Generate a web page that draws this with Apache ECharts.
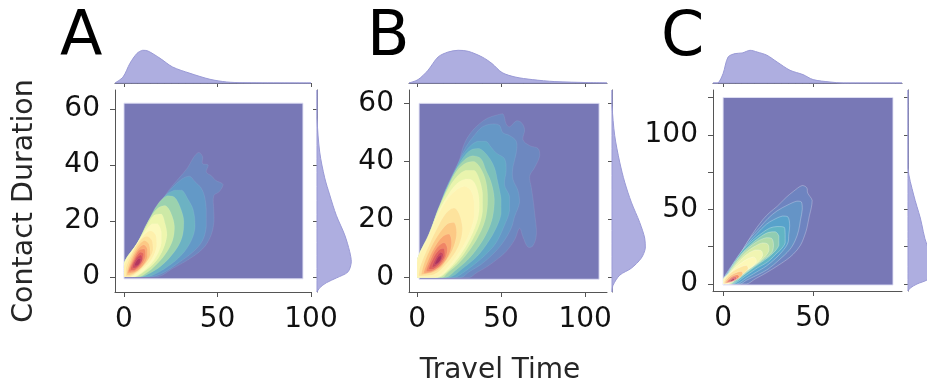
<!DOCTYPE html>
<html>
<head>
<meta charset="utf-8">
<script src="https://cdn.jsdelivr.net/npm/echarts@6/dist/echarts.min.js"></script>
<style>html,body{margin:0;padding:0;background:#fff}#chart{width:927px;height:386px}</style>
</head>
<body>
<div id="chart"></div>
<script>
const FONT = 'DejaVu Sans';

// axis ranges and ticks
const xRangeA = [-4.8, 100], yRangeA = [-5.4, 66.8];
const xRangeB = [-4.8, 113], yRangeB = [-5, 64.7];
const xRangeC = [-5.6, 99.4], yRangeC = [-4.7, 130];
const xTicksAB = [0, 50, 100];
const yTicksAB = [0, 20, 40, 60];
const xTicksC = [0, 50];
const yTicksC = [0, 25, 50, 75, 100, 125];
const yLabelsC = [0, 50, 100];

// extent of the kde grid (lowest filled level): [x0, x1, y0, y1]
const baseA = [0, 95.7, -0.7, 62.1];
const baseB = [1.2, 108.3, -0.6, 60.1];
const baseC = [0, 94.4, -0.7, 125];

// filled contour levels, outermost first, [travel, duration]
const contourA = [
  [[0,0],[0,2],[5,7],[10,14],[15,21],[19,26],[24,31],[29,35],[34,39],[37,42.5],[40,44.5],[42,43],[42,40.5],[45,40],[44,37.5],[47,36],[49,34.5],[53,33],[51,30.5],[48,29],[48,24],[48,19],[46,14],[42,10],[34,6],[26,3],[18,0]],
  [[0,0],[0,3],[6,9],[11,16],[16,23],[21,28],[26,32],[31,35],[35,36],[38,34],[41,32],[43,29],[44,24],[44,18],[42,13],[37,9],[29,5],[21,1.5],[14,0]],
  [[0,0],[0,4],[7,11],[12,18],[17,24],[22,29],[27,31],[31,31],[34,28],[37,24],[38,18],[36,13],[31,8],[23,3.5],[15,0.5],[11,0]],
  [[0,0],[0,5],[7,12],[13,20],[18,26],[23,29],[27,28.5],[30,25],[32,20],[31,14],[27,9],[20,4],[13,1],[9,0]],
  [[0,0],[0,5],[7,12],[13,20],[18,24.5],[22,25.5],[25,23],[27,18],[26,13],[22,8],[16,3.5],[10,0.5],[7,0]],
  [[0,0],[0,5],[7,12],[12,18],[16,22],[20,22.5],[22,19],[23,15],[21,10],[17,5.5],[11,2],[6,0]],
  [[0,0],[0,4.5],[6,11],[11,16],[15,19],[18,19],[20,16],[20,12],[17,7],[12,3],[7,0.5],[5,0]],
  [[0,0],[0,4],[5,9.5],[10,14.5],[14,16.5],[17,15],[17.5,11],[15,6.5],[10,3],[5,0.5],[3.5,0]],
  [[1,0.3],[1,3],[4,8],[8,12.5],[12,14.5],[15,13],[15.5,9.5],[13,6],[8.5,2.5],[4,0.5],[1.5,0.2]],
  [[1.5,0.8],[3,5],[7,10.5],[11,13],[13.5,11.5],[14,8],[11.5,5],[7,2],[3,0.7]],
  [[2,1.2],[4,5.5],[7,9.5],[10.5,11.5],[12.5,10],[12.5,7],[10,4],[6,1.8]],
  [[2.5,1.8],[5,6],[8,9.5],[11,10],[11.5,7.5],[9.5,4.5],[6,2.3]],
  [[3.5,2.5],[5.5,6],[8.5,8.8],[10.5,8.3],[10,6],[8,3.8],[5.5,2.5]],
  [[4.5,3.3],[6.5,6.5],[9,7.8],[9.8,6.3],[8.2,4.3],[6,3.2]],
  [[5.5,4],[7.5,6.5],[9,6.6],[8.5,5],[7,4]]
];

const contourB = [
  [[0,0],[0,3],[5,9],[10,16],[14,24],[18,30],[22,34],[25,40],[28,46],[32,50],[37,53],[42,55],[47,56],[51,56.5],[53,53],[55,52],[59,54],[62,53.5],[64,51],[63,47.5],[67,45.5],[72,44.5],[73,42],[70,38],[67,35],[68,31],[69,27],[70,22],[71,15],[69,11],[66,10.5],[63,14],[61,17],[58,13],[53,9],[47,6],[41,3.5],[35,1.5],[31,0]],
  [[0,0],[0,4],[6,11],[11,19],[15,27],[19,33],[24,39],[29,45],[34,49],[39,52],[45,53],[49,52.5],[51,50],[55,49],[59,47],[59,43],[57,38],[57,34],[60,30],[61,26],[58,21],[56,17],[51,12],[45,8],[38,4.5],[31,2],[26,0]],
  [[0,0],[0,5],[7,13],[12,21],[16,29],[21,35],[26,41],[31,45],[36,47],[41,47],[44,45],[47,43],[52,41],[53,37],[52,32],[55,28],[55,23],[52,18],[47,12],[41,8],[34,4.5],[27,1.5],[22,0]],
  [[0,0],[0,5.5],[7,14],[12,22],[17,30],[22,36],[27,41],[32,44],[37,44.5],[42,42],[46,38],[48,33],[50,27],[50,22],[47,17],[42,12],[36,7.5],[28,3.5],[19,0]],
  [[0,0],[0,6],[7,14],[12,23],[18,31],[23,37],[28,40.5],[33,42],[38,41],[41,37],[44,33],[46,27],[45,21],[42,16],[37,11],[30,6],[23,2.5],[17,0]],
  [[0,0],[0,6],[7,15],[13,24],[19,32],[24,37],[29,39.5],[34,40],[38,37.5],[41,33],[42,27],[41,21],[38,16],[32,10],[25,5],[18,1.5],[15,0]],
  [[0,0],[0,6],[7,15],[13,24],[19,31],[24,35],[29,37],[34,37],[37,34],[39,29],[39,23],[37,18],[32,12],[25,6],[18,2],[13,0]],
  [[0,0],[0,6],[7,14.5],[13,23],[19,29],[24,32.5],[29,34],[33,33.5],[36,30],[37,25],[36,20],[32,14],[26,8],[19,3],[12,0]],
  [[0,0],[0,5.5],[6,13],[12,21],[18,27],[23,30],[28,31.5],[32,30],[34,26],[34,21],[31,15],[26,9.5],[19,4],[11,0]],
  [[1,0.5],[2,4],[7,11],[12,17],[17,22],[22,24],[25,22],[27,17],[26,13],[23,9],[17,4.5],[10,1]],
  [[2.5,1],[4,4.5],[8,10],[13,15],[18,18.5],[22,19],[23.5,15.5],[22,11],[18,6.5],[12,2.5]],
  [[4,1.5],[6,5],[10,10],[15,14],[19,15],[20.5,12],[19,8],[15,4.5],[9,2]],
  [[5.5,2],[8,6],[11.5,10],[16,12],[18,10],[17,7],[13.5,4],[9,2.3]],
  [[7,2.8],[9.5,6.5],[13,9.5],[16,10],[16.5,7.5],[14,5],[10,3]],
  [[9,3.5],[11,6.5],[14,8.7],[15.5,8],[14,5.5],[11,4]],
  [[10.5,4.5],[12.5,7],[14.5,7.8],[14,6],[12,4.8]]
];

const contourC = [
  [[0,0],[0,3],[5,12],[11,23],[16,33],[22,43],[26,48],[30,52],[35,58],[39,62],[44,66],[46.5,64.5],[47,61],[49.5,56],[49,51],[48,46],[47,40],[46,35],[43,26],[39,20],[35,16],[30,12],[24,7.5],[18,3.5],[13,0]],
  [[0,0],[0,3],[4,11],[8.5,18],[14,29],[20.5,38],[25,44],[30,49],[36,53],[41,55.5],[43.5,55],[44,50],[43,43],[42,36],[40,29],[37,23],[31,16],[25,10],[19,6],[13,2.5],[9.5,0]],
  [[0,0],[0,3],[3.5,9],[7.6,16],[13,26],[19,34],[24,40],[28,43],[33,45.5],[36,45],[37,39],[36.5,33],[36,27.5],[33,22],[29,17],[24,12],[20.5,9.4],[13,4],[7.6,0]],
  [[0,0],[0,3],[3,8],[5.7,14],[11,23],[16.7,29.5],[22,34.5],[26,37.5],[30,38.5],[34,38],[34.5,33],[34.5,27.5],[32,23],[30,20.8],[25,15],[19,10.7],[12,5],[5.7,0]],
  [[0,0],[0,3],[3,7.5],[5,12],[10,20],[15,26],[20,31],[25,34.5],[29,35],[31,32],[31,26],[28,21],[23,16],[17,11],[11,5.5],[5,0]],
  [[0,0],[0,3],[3,7],[5,11],[9,18],[14,24],[19,28.5],[24,31],[27,30.5],[28,26],[27,21],[23,17],[18,12.5],[12,7],[7,3],[4.5,0]],
  [[0,0],[0,3],[3,7],[5,10.5],[9,16.5],[13,21.5],[18,25.5],[22,27.5],[25,26.5],[25.5,22.5],[23,18],[18,13],[12,8],[7,3.5],[4,0]],
  [[0,0],[0,3],[3,6.5],[6,11],[10,16.5],[14,20.5],[18,22.8],[21,22.5],[22,19.5],[20,15.5],[16,11.5],[11,7.5],[6,3.5],[3.5,0]],
  [[0,0],[0,2.8],[3,6],[6,10],[10,14],[14,17],[17,18],[18.5,15.5],[16.5,12],[12,8.5],[7,5],[3.5,1.5],[3,0]],
  [[0.3,0.3],[1,3],[3,6],[6,9],[10,11.5],[13,12.5],[14,10.5],[12,7.5],[8,4.5],[4,1.5],[2,0.2]],
  [[0.8,0.5],[2,3],[4,5.5],[7,7.5],[10,8.5],[11,7],[9.5,4.5],[6,2.3],[3,0.8]],
  [[1.5,0.8],[3,3],[5,5],[8,6.2],[9,5],[7.5,3],[5,1.5],[2.5,0.8]],
  [[2.5,1.3],[4,3.2],[6,4.6],[7.5,4.5],[7,3],[5,1.8],[3.5,1.3]],
  [[3.5,1.8],[5,3.2],[6.5,3.8],[6.3,2.8],[5,2]]
];

// marginal densities (relative height)
const topXA = [-4.8,-0.5,3.2,7,10,12.8,19.3,26,35.3,46,55,63.6,100];
const topDA = [0,6,19.7,29.7,32.7,32,24.7,16,9.7,3.7,1,0.3,0];
const rightYA = [-5.4,-3.9,-2.1,-0.4,1.8,5.4,9,15,22,29.3,35.4,44.6,56.8,66.8];
const rightDA = [0,2.7,9.3,19.3,31,34.3,32.7,27.7,19.3,12.7,7.7,2.7,0,0];

const topXB = [-4.8,0.6,6.5,12.5,18.5,24.4,30.4,38.7,44.6,50.6,58.3,68.5,82,101.8,113];
const topDB = [0,3.4,12.7,26,31,32.7,31.7,26,19.4,10.4,6,3.4,1.4,0.4,0];
const rightYB = [-5,-2.7,0.8,3.2,6.7,10.1,13.6,19,26,32.9,39.8,49,59.4,64.7];
const rightDB = [0,1,7.7,19.3,29.3,33.3,32.7,27.7,19.3,12.7,7.7,2.7,0,0];

const topXC = [-5.6,-2.8,0,2.8,6.7,10.6,15,18.9,24.4,30,37.2,44.4,50,59.4,66.7,99.4];
const topDC = [0,0,9.4,26,29.4,30,32.7,31,27.7,21,12.7,8.4,3.4,1,0,0];
const rightYC = [-4.7,-2.7,0,2.7,8,15,26.1,44.2,59.6,77.7,130];
const rightDC = [0,2.3,9,19,28,30,19,12.3,5.7,0,0];

// fill colours per level (Spectral-like, light)
const baseColor = '#7878b6';
const colorsA = ['#6d88c0','#6399c7','#6cb2c3','#9bd2ae','#cde9a6','#eef6ae','#fcf9bd','#fef0ac','#fde19a','#fcc985','#f9ab74','#f28a66','#e4685d','#cf4b5c','#b3375e'];
const colorsB = ['#6d88c0','#6597c6','#62a8c6','#7cc0bb','#a3d5ac','#cae7a6','#e9f4ad','#fbf8bb','#fef3b2','#fde39d','#fcc985','#f9a872','#f08565','#e0625d','#c9475c','#ab335e'];
const colorsC = ['#6e84c0','#6594c6','#58a2cb','#62b5c4','#90cdb2','#b3dca9','#d5eaa7','#f1f5b2','#fdf8b8','#fde6a0','#fbc481','#f39068','#dc5f5e','#b93f5d'];

const panels = [
  {letter:'A', xr:xRangeA, yr:yRangeA, xt:xTicksAB, xl:xTicksAB, yt:yTicksAB, yl:yTicksAB, base:baseA, levels:contourA, colors:colorsA,
   topX:topXA, topD:topDA, rightY:rightYA, rightD:rightDA, edge:'rgba(255,255,255,0.12)',
   box:{left:115, top:90, width:196, height:202}, rightLeft:317, rightWidth:40, letterX:60},
  {letter:'B', xr:xRangeB, yr:yRangeB, xt:xTicksAB, xl:xTicksAB, yt:yTicksAB, yl:yTicksAB, base:baseB, levels:contourB, colors:colorsB,
   topX:topXB, topD:topDB, rightY:rightYB, rightD:rightDB, edge:'rgba(255,255,255,0.12)',
   box:{left:409, top:90, width:198, height:202}, rightLeft:612, rightWidth:40, letterX:367},
  {letter:'C', xr:xRangeC, yr:yRangeC, xt:xTicksC, xl:xTicksC, yt:yTicksC, yl:yLabelsC, base:baseC, levels:contourC, colors:colorsC,
   topX:topXC, topD:topDC, rightY:rightYC, rightD:rightDC, edge:'rgba(255,255,255,0.45)',
   box:{left:713, top:90, width:189, height:201}, rightLeft:908, rightWidth:19, letterX:661}
];

const spine = {show:true, onZero:false, lineStyle:{color:'#555', width:1}};
const tickStyle = {color:'#555', width:1};
const margFill = '#aeaee0', margEdge = '#9a9ad6';

// pixel bounding box of a polygon, keeps the smoothed outline inside it
function bbox(pts) {
  const xs = pts.map(q => q[0]), ys = pts.map(q => q[1]);
  return [[Math.min(...xs), Math.min(...ys)], [Math.max(...xs), Math.max(...ys)]];
}

const grid = [], xAxis = [], yAxis = [], series = [], graphic = [];

panels.forEach((p, k) => {
  const g = 3 * k;
  grid.push({left:p.box.left, top:p.box.top, width:p.box.width, height:p.box.height});
  grid.push({left:p.box.left, top:43, width:p.box.width, height:40});
  grid.push({left:p.rightLeft, top:p.box.top, width:p.rightWidth, height:p.box.height});

  xAxis.push({gridIndex:g, type:'value', min:p.xr[0], max:p.xr[1], axisLine:spine,
    axisTick:{show:true, length:5, customValues:p.xt, lineStyle:tickStyle},
    axisLabel:{customValues:p.xl, fontSize:28, fontFamily:FONT, color:'#111', margin:14},
    splitLine:{show:false}});
  yAxis.push({gridIndex:g, type:'value', min:p.yr[0], max:p.yr[1], axisLine:spine,
    axisTick:{show:true, length:5, customValues:p.yt, lineStyle:tickStyle},
    axisLabel:{customValues:p.yl, fontSize:28, fontFamily:FONT, color:'#111', margin:15},
    splitLine:{show:false}});

  xAxis.push({gridIndex:g + 1, type:'value', min:p.xr[0], max:p.xr[1], axisLine:spine,
    axisTick:{show:true, length:4, customValues:p.xt, lineStyle:tickStyle},
    axisLabel:{show:false}, splitLine:{show:false}});
  yAxis.push({gridIndex:g + 1, type:'value', min:0, max:40, show:false});

  // one unit of marginal density per pixel
  xAxis.push({gridIndex:g + 2, type:'value', min:0, max:p.rightWidth, show:false});
  yAxis.push({gridIndex:g + 2, type:'value', min:p.yr[0], max:p.yr[1], axisLine:spine,
    axisTick:{show:true, length:4, customValues:p.yt, lineStyle:tickStyle},
    axisLabel:{show:false}, splitLine:{show:false}});

  // base of the kde
  series.push({type:'custom', coordinateSystem:'cartesian2d', xAxisIndex:g, yAxisIndex:g, silent:true,
    data:[[p.base[0], p.base[2]]],
    renderItem:(params, api) => {
      const b = p.base;
      return {type:'polygon', shape:{points:[[b[0],b[2]],[b[1],b[2]],[b[1],b[3]],[b[0],b[3]]].map(pt => api.coord(pt))},
        style:{fill:baseColor, stroke:'rgba(225,225,245,0.9)', lineWidth:1}};
    }});

  // contour levels
  series.push({type:'custom', coordinateSystem:'cartesian2d', xAxisIndex:g, yAxisIndex:g, silent:true,
    data:p.levels.map(pts => [pts[0][0], pts[0][1]]),
    renderItem:(params, api) => {
      const i = params.dataIndex;
      const pts = p.levels[i].map(pt => api.coord(pt));
      return {type:'polygon',
        shape:{points:pts, smooth:0.35, smoothConstraint:bbox(pts)},
        style:{fill:p.colors[i], stroke:p.edge, lineWidth:0.6}};
    }});

  // top marginal
  series.push({type:'custom', coordinateSystem:'cartesian2d', xAxisIndex:g + 1, yAxisIndex:g + 1, silent:true,
    data:[[p.topX[0], 0]],
    renderItem:(params, api) => {
      const pts = p.topX.map((x, i) => api.coord([x, p.topD[i]]));
      return {type:'polygon', shape:{points:pts, smooth:0.3, smoothConstraint:bbox(pts)},
        style:{fill:margFill, stroke:margEdge, lineWidth:1}};
    }});

  // right marginal
  series.push({type:'custom', coordinateSystem:'cartesian2d', xAxisIndex:g + 2, yAxisIndex:g + 2, silent:true,
    data:[[0, p.rightY[0]]],
    renderItem:(params, api) => {
      const pts = p.rightY.map((y, i) => api.coord([p.rightD[i], y]));
      return {type:'polygon', shape:{points:pts, smooth:0.3, smoothConstraint:bbox(pts)},
        style:{fill:margFill, stroke:margEdge, lineWidth:1}};
    }});

  graphic.push({type:'text', x:p.letterX, y:8, silent:true,
    style:{text:p.letter, fontSize:62, fontFamily:FONT, fill:'#000', align:'left', verticalAlign:'top'}});
});

graphic.push({type:'text', x:25, y:201, rotation:Math.PI / 2, silent:true,
  style:{text:'Contact Duration', fontSize:28.5, fontFamily:FONT, fill:'#262626', align:'center', verticalAlign:'middle'}});
graphic.push({type:'text', x:500, y:371, silent:true,
  style:{text:'Travel Time', fontSize:28, fontFamily:FONT, fill:'#262626', align:'center', verticalAlign:'middle'}});

const chart = echarts.init(document.getElementById('chart'));
chart.setOption({
  animation:false,
  backgroundColor:'#fff',
  grid, xAxis, yAxis, series, graphic
});
</script>
</body>
</html>
